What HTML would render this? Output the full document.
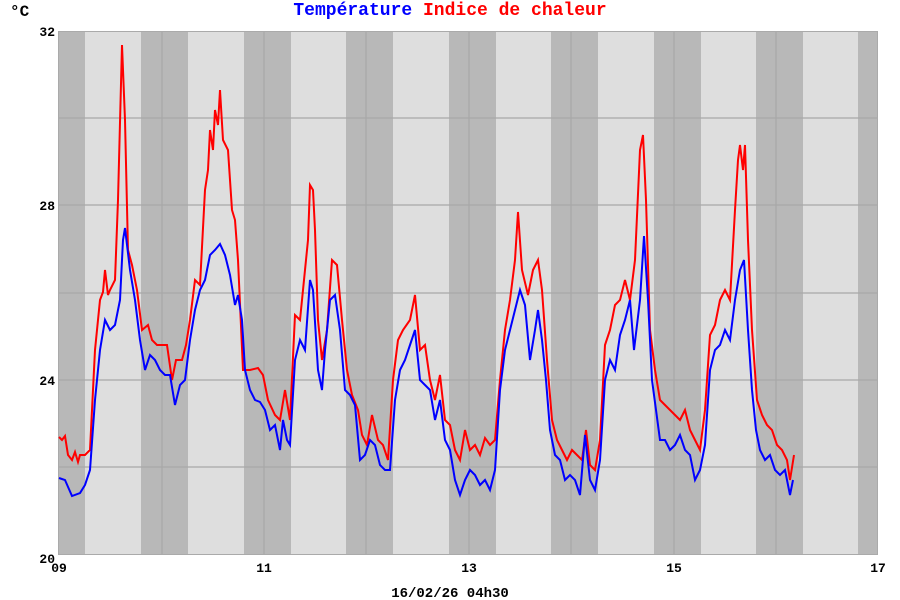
<!DOCTYPE html><html><head><meta charset="utf-8"><style>body{margin:0;background:#fff}svg{display:block}</style></head><body>
<svg width="900" height="600" xmlns="http://www.w3.org/2000/svg" font-family="Liberation Mono, monospace">
<rect x="58" y="31" width="820" height="524" fill="#dedede"/>
<g fill="#b8b8b8">
<rect x="58" y="31" width="27" height="524"/>
<rect x="141" y="31" width="47" height="524"/>
<rect x="244" y="31" width="47" height="524"/>
<rect x="346" y="31" width="47" height="524"/>
<rect x="449" y="31" width="47" height="524"/>
<rect x="551" y="31" width="47" height="524"/>
<rect x="654" y="31" width="47" height="524"/>
<rect x="756" y="31" width="47" height="524"/>
<rect x="858" y="31" width="20" height="524"/>
</g>
<g stroke="#a8a8a8" stroke-width="1.3">
<line x1="58" y1="118" x2="878" y2="118"/><line x1="58" y1="205" x2="878" y2="205"/><line x1="58" y1="293" x2="878" y2="293"/><line x1="58" y1="380" x2="878" y2="380"/><line x1="58" y1="467" x2="878" y2="467"/>
<line x1="162" y1="31" x2="162" y2="555"/><line x1="264" y1="31" x2="264" y2="555"/><line x1="366" y1="31" x2="366" y2="555"/><line x1="469" y1="31" x2="469" y2="555"/><line x1="571" y1="31" x2="571" y2="555"/><line x1="674" y1="31" x2="674" y2="555"/><line x1="776" y1="31" x2="776" y2="555"/>
</g>
<rect x="58.5" y="31.5" width="819" height="523" fill="none" stroke="#aaa"/>
<polyline fill="none" stroke="#ff0000" stroke-width="2" points="59,437 62,440 65,436 68,455 72,460 75,452 78,462 80,455 85,455 90,450 95,350 100,300 103,292 105,270 108,295 110,290 115,280 118,200 122,45 125,120 128,250 132,265 137,290 142,330 148,325 152,340 157,345 162,345 167,345 172,380 176,360 182,360 186,345 190,320 195,280 200,285 205,190 208,170 210,130 213,150 215,110 218,125 220,90 223,140 228,150 232,210 235,220 238,260 243,370 250,370 258,368 263,375 268,400 275,415 280,420 285,390 290,420 295,315 300,320 305,270 308,240 310,185 313,190 315,230 318,320 322,360 327,330 332,260 337,265 342,320 347,370 352,395 358,410 362,435 367,445 372,415 378,440 383,445 388,460 393,380 398,340 403,330 410,320 415,295 420,350 425,345 430,380 435,400 440,375 445,420 450,425 455,450 460,460 465,430 470,450 475,445 480,455 485,438 490,445 495,440 500,380 505,330 510,300 515,260 518,212 522,270 528,295 533,270 538,260 542,290 547,360 552,420 557,440 562,450 567,460 572,450 577,455 582,460 586,430 590,465 595,470 600,440 605,345 610,330 615,305 620,300 625,280 630,300 635,260 640,150 643,135 646,200 650,330 655,370 660,400 665,405 670,410 675,415 680,420 685,410 690,430 695,440 700,450 705,410 710,335 715,325 720,300 725,290 730,300 735,210 738,160 740,145 743,170 745,145 748,240 752,330 757,400 762,415 767,425 772,430 777,445 782,450 787,460 790,480 794,455"/>
<polyline fill="none" stroke="#0000ff" stroke-width="2" points="59,478 65,480 72,496 80,493 85,485 90,470 95,400 100,350 105,320 110,330 115,325 120,300 123,240 125,228 130,270 135,300 140,340 145,370 150,355 155,360 160,370 165,375 170,375 175,405 180,385 185,380 190,340 195,310 200,290 205,280 210,255 215,250 220,244 225,255 230,275 235,305 238,295 242,320 245,370 250,390 255,400 260,402 265,410 270,430 275,425 280,450 283,420 287,440 290,445 295,360 300,340 305,350 310,280 313,290 318,370 322,390 325,350 330,300 335,295 340,330 345,390 350,395 355,405 360,460 365,455 370,440 375,445 380,465 385,470 390,470 395,400 400,370 405,360 410,345 415,330 420,380 425,385 430,390 435,420 440,400 445,440 450,450 455,480 460,495 465,480 470,470 475,475 480,485 485,480 490,490 495,470 500,390 505,350 510,330 515,310 520,290 525,305 530,360 535,330 538,310 542,340 546,380 550,430 555,455 560,460 565,480 570,475 575,480 580,495 585,435 590,480 595,490 600,460 605,380 610,360 615,370 620,335 625,320 630,300 634,350 640,300 644,236 648,300 652,380 656,410 660,440 665,440 670,450 675,445 680,435 685,450 690,455 695,480 700,470 705,445 710,370 715,350 720,345 725,330 730,340 735,300 740,270 744,260 748,330 752,390 756,430 760,450 765,460 770,455 775,470 780,475 785,470 790,495 793,480"/>
<g font-size="13" fill="#000" font-weight="bold">
<text x="10" y="16" font-size="16">°C</text>
<text x="55" y="36" text-anchor="end">32</text>
<text x="55" y="210" text-anchor="end">28</text>
<text x="55" y="385" text-anchor="end">24</text>
<text x="55" y="563" text-anchor="end">20</text>
<text x="59" y="572" text-anchor="middle">09</text>
<text x="264" y="572" text-anchor="middle">11</text>
<text x="469" y="572" text-anchor="middle">13</text>
<text x="674" y="572" text-anchor="middle">15</text>
<text x="878" y="572" text-anchor="middle">17</text>
<text x="450" y="597" text-anchor="middle" font-size="14">16/02/26 04h30</text>
<text x="450" y="15" text-anchor="middle" font-size="18"><tspan fill="#0000ff">Température</tspan> <tspan fill="#ff0000">Indice de chaleur</tspan></text>
</g>
</svg></body></html>
